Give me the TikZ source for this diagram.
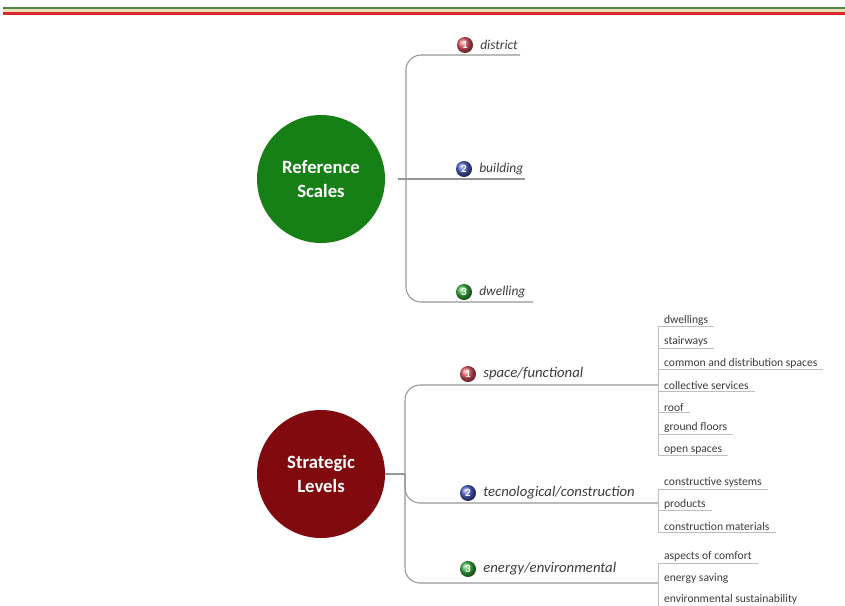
\documentclass[tikz,border=0pt]{standalone}
\usepackage{fontspec}
\setmainfont{Carlito}
\usetikzlibrary{positioning, calc, shadings}
\definecolor{scalegreen}{RGB}{22,128,22}
\definecolor{levelred}{RGB}{128,10,14}
\definecolor{branchgray}{RGB}{150,150,150}
\definecolor{twiggray}{RGB}{190,190,190}
\definecolor{textgray}{RGB}{60,60,60}
\definecolor{bargreen}{RGB}{80,135,70}
\definecolor{barred}{RGB}{215,40,45}
\definecolor{barbeige}{RGB}{235,225,185}
\definecolor{badgered}{RGB}{225,85,95}
\definecolor{badgeblue}{RGB}{75,95,200}
\definecolor{badgegreen}{RGB}{60,175,60}

\begin{document}
\begin{tikzpicture}[
        x=0.03cm, y=-0.03cm,
        node distance=0.645cm,
        central/.style={circle, minimum size=3.84cm, text=white, align=center, font=\fontsize{16}{20}\selectfont\bfseries},
        badge/.style={circle, inner sep=0pt, minimum size=0.48cm, text=white, font=\fontsize{9.5}{9.5}\selectfont\bfseries},
        topic/.style={anchor=west, inner sep=1pt, text=textgray, font=\fontsize{12.6}{14}\selectfont\itshape},
        small topic/.style={topic, font=\fontsize{11.5}{13}\selectfont\itshape},
        leaf/.style={anchor=south west, inner xsep=5pt, inner ysep=0.8pt, text=textgray, font=\fontsize{9.9}{11}\selectfont},
        branch/.style={draw=branchgray, line width=0.9pt, rounded corners=0.45cm},
        twig/.style={draw=twiggray, line width=0.7pt}
    ]
    \useasboundingbox (0,0) rectangle (845,605);

    % bar on top
    \fill[barbeige] (3,8) rectangle (845,13);
    \draw[bargreen, line width=1.6pt] (3,8) -- (845,8);
    \draw[barred, line width=2pt] (3,13.5) -- (845,13.5);

    % reference scales
    \node[central, fill=scalegreen] (ref) at (321,179) {Reference\\Scales};

    \node[badge, ball color=badgered] (b1) at (465,45) {1};
    \node[small topic, right=0.17cm of b1] (district) {district};
    \node[badge, ball color=badgeblue] (b2) at (464,169) {2};
    \node[small topic, right=0.17cm of b2] (building) {building};
    \node[badge, ball color=badgegreen] (b3) at (464,292) {3};
    \node[small topic, right=0.17cm of b3] (dwelling) {dwelling};

    \coordinate (refhub) at (406,179);
    \coordinate (distend) at (520,55);
    \coordinate (buildend) at (525,179);
    \coordinate (dwellend) at (533,302);

    \draw[branch] (distend) -| (refhub) |- (dwellend);
    \draw[branch, shorten <=0.39cm] (ref.east) -- (buildend);

    % strategic levels
    \node[central, fill=levelred] (lev) at (321,474) {Strategic\\Levels};

    \node[badge, ball color=badgered] (s1) at (468,374) {1};
    \node[topic, right=0.17cm of s1] (spacefun) {space/functional};
    \node[badge, ball color=badgeblue] (s2) at (468,493) {2};
    \node[topic, right=0.17cm of s2] (tecno) {tecnological/construction};
    \node[badge, ball color=badgegreen] (s3) at (468,569) {3};
    \node[topic, right=0.17cm of s3] (energy) {energy/environmental};

    \coordinate (levhub) at (405,474);
    \coordinate (sfend) at (658,385);
    \coordinate (tcend) at (658,503);
    \coordinate (eeend) at (658,583);

    \draw[branch] (sfend) -| (levhub) |- (eeend);
    \draw[branch] (lev.east) -- (levhub);
    \draw[branch] (levhub) |- (tcend);

    % sub-items
    \node[leaf] (dwellings) at (658,326.5) {dwellings};
    \node[leaf, below=of dwellings.south west, anchor=south west] (stairways) {stairways};
    \node[leaf, below=of stairways.south west, anchor=south west] (common) {common and distribution spaces};
    \node[leaf, below=of common.south west, anchor=south west] (collective) {collective services};
    \node[leaf, below=of collective.south west, anchor=south west] (roof) {roof};
    \node[leaf, below=of roof.south west, anchor=south west] (ground) {ground floors};
    \node[leaf, below=of ground.south west, anchor=south west] (open) {open spaces};

    \node[leaf] (consys) at (658,489) {constructive systems};
    \node[leaf, below=of consys.south west, anchor=south west] (products) {products};
    \node[leaf, below=of products.south west, anchor=south west] (conmat) {construction materials};

    \node[leaf] (comfort) at (658,563) {aspects of comfort};
    \node[leaf, below=of comfort.south west, anchor=south west] (saving) {energy saving};
    \node[leaf, below=of saving.south west, anchor=south west] (sustain) {environmental sustainability};

    % brackets and underlines
    \draw[twig] (dwellings.south west) -- (open.south west);
    \draw[twig] (consys.south west) -- (conmat.south west);
    \draw[twig] (comfort.south west) -- (sustain.south west);

    \draw[twig] (dwellings.south west) -- (dwellings.south east)
                (stairways.south west) -- (stairways.south east)
                (common.south west) -- (common.south east)
                (collective.south west) -- (collective.south east)
                (roof.south west) -- (roof.south east)
                (ground.south west) -- (ground.south east)
                (open.south west) -- (open.south east);
    \draw[twig] (consys.south west) -- (consys.south east)
                (products.south west) -- (products.south east)
                (conmat.south west) -- (conmat.south east);
    \draw[twig] (comfort.south west) -- (comfort.south east)
                (sustain.south west) -- (sustain.south east);
\end{tikzpicture}
\end{document}
